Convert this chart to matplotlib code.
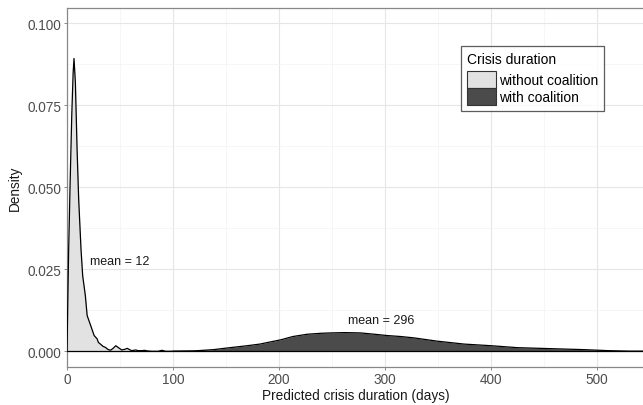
import matplotlib
matplotlib.use("Agg")
import matplotlib.pyplot as plt
from matplotlib.patches import Patch
from matplotlib.ticker import MultipleLocator

plt.rcParams['font.family'] = ['Liberation Sans', 'DejaVu Sans']

# Series: without coalition (density curve points)
without_x = [0, 0.5, 1.5, 3, 4.5, 5.8, 6.6, 7.9, 9.5, 11, 13.2, 14.8, 17.3, 19, 22.4,
             25.6, 28.4, 29.6, 31.5, 34, 36.2, 38.5, 41, 43.5, 46, 49, 51.6, 54.5, 56.9,
             59, 61, 63, 64.8, 67, 69, 71, 73, 76, 80, 86, 89.5, 93, 100, 110, 120, 130]
without_y = [0.0, 0.010, 0.030, 0.052, 0.072, 0.085, 0.0893, 0.082, 0.0617, 0.0465, 0.0312,
             0.023, 0.017, 0.0109, 0.0078, 0.0048, 0.0038, 0.0027, 0.0022, 0.0015, 0.0012,
             0.0006, 0.0003, 0.0009, 0.0017, 0.0010, 0.0004, 0.0006, 0.0009, 0.0005, 0.0002,
             0.0003, 0.0004, 0.0002, 0.0002, 0.0002, 0.0003, 0.0001, 0.0, 0.0, 0.0003, 0.0,
             0.0, 0.0, 0.0, 0.0]

# Series: with coalition
with_x = [100, 119, 138, 151, 170, 182, 201.6, 213, 226.6, 240, 248.6, 262, 277, 290, 302,
          315, 327, 349, 374.5, 400, 425, 456.5, 488, 510, 530, 560]
with_y = [0.0, 0.0001, 0.0005, 0.0010, 0.0017, 0.0022, 0.0035, 0.0045, 0.0052, 0.0055, 0.0056,
          0.0057, 0.0056, 0.0052, 0.0048, 0.0045, 0.0041, 0.0031, 0.0022, 0.0017, 0.0011,
          0.0008, 0.0005, 0.0002, 0.00005, 0.00003]

labels = ["without coalition", "with coalition"]
mean_labels = ["mean = 12", "mean = 296"]
mean_pos_x = [50, 296]
mean_pos_y = [0.0276, 0.0096]

xticks = [0, 100, 200, 300, 400, 500]
yticks = [0.0, 0.025, 0.05, 0.075, 0.1]

light = "#e2e2e2"
dark = "#4b4b4b"

fig = plt.figure(figsize=(6.43, 4.06), dpi=100)
W, H = 643, 406
ax = fig.add_axes([67 / W, 1 - 367.7 / H, 1 - 67 / W + 0.002, (367.7 - 9) / H])

ax.set_xlim(0, 544.5)
ax.set_ylim(-0.0047, 0.1047)

ax.fill_between(without_x, without_y, 0, color=light, lw=0, zorder=2)
ax.plot(without_x, without_y, color="black", lw=0.9, zorder=4)
ax.fill_between(with_x, with_y, 0, color=dark, lw=0, zorder=3)
ax.plot(with_x, with_y, color="black", lw=0.9, zorder=4)
ax.axhline(0, color="black", lw=0.9, zorder=4)

for t, xx, yy in zip(mean_labels, mean_pos_x, mean_pos_y):
    ax.text(xx, yy, t, ha="center", va="center", fontsize=9, color="#1a1a1a", zorder=5)

ax.set_xticks(xticks)
ax.set_yticks(yticks)
ax.set_yticklabels([f"{v:.3f}" for v in yticks])
ax.xaxis.set_minor_locator(MultipleLocator(50))
ax.yaxis.set_minor_locator(MultipleLocator(0.0125))
ax.grid(which="major", color="#e6e6e6", lw=0.8, zorder=0)
ax.grid(which="minor", color="#f3f3f3", lw=0.5, zorder=0)
ax.set_axisbelow(True)
ax.tick_params(which="major", length=2, width=0.6, color="#777777", labelsize=9.8,
               labelcolor="#4d4d4d", pad=2)
ax.tick_params(which="minor", length=0)

for s in ["left", "bottom", "top"]:
    ax.spines[s].set_color("#888888")
    ax.spines[s].set_linewidth(0.9)
ax.spines["right"].set_visible(False)

ax.set_xlabel("Predicted crisis duration (days)", fontsize=9.8, color="#1a1a1a", labelpad=1)
ax.set_ylabel("Density", fontsize=9.8, color="#1a1a1a", labelpad=4)

handles = [Patch(facecolor=light, edgecolor="#333333", lw=0.8),
           Patch(facecolor=dark, edgecolor="#333333", lw=0.8)]
leg = fig.legend(handles, labels, title="Crisis duration", loc="upper left",
                 bbox_to_anchor=(461 / W, 1 - 47 / H), fontsize=10, title_fontsize=10,
                 frameon=True, fancybox=False, edgecolor="#333333",
                 handlelength=2.15, handleheight=1.5, handletextpad=0.2,
                 labelspacing=0.0, borderpad=0.4, borderaxespad=0)
leg.get_frame().set_linewidth(0.9)
leg._legend_box.align = "left"
leg._legend_box.sep = 4

fig.savefig("out.png", dpi=100, facecolor="white")
